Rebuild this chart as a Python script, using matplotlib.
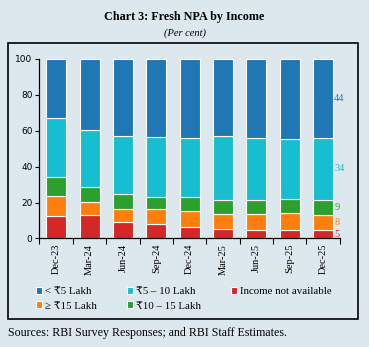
import numpy as np
import matplotlib.pyplot as plt
from matplotlib.patches import Rectangle

quarters = ["Dec-23", "Mar-24", "Jun-24", "Sep-24", "Dec-24",
            "Mar-25", "Jun-25", "Sep-25", "Dec-25"]

# shares in per cent, stacked bottom to top
not_available = [12.6, 13.2, 9.3, 8.1, 6.5, 5.4, 4.8, 4.8, 4.6]
above_15 = [11.2, 7.2, 7.2, 8.1, 8.5, 8.0, 8.6, 9.1, 8.2]
lakh_10_15 = [10.6, 8.0, 8.0, 7.0, 7.9, 8.1, 8.1, 8.2, 8.7]
lakh_5_10 = [32.9, 31.8, 32.7, 33.1, 33.2, 35.4, 34.6, 33.4, 34.4]
below_5 = [32.7, 39.8, 42.8, 43.7, 43.9, 43.1, 43.9, 44.5, 44.1]

bg = "#dde8ee"
serif = ["Liberation Serif", "DejaVu Serif"]

fig = plt.figure(figsize=(3.69, 3.47), dpi=100, facecolor=bg)
ax = fig.add_axes([0.107, 0.313, 0.814, 0.517])
ax.set_facecolor(bg)

series = [
    (not_available, "#d62728", "Income not available"),
    (above_15, "#ff7f0e", "\u2265 \u20b915 Lakh"),
    (lakh_10_15, "#2ca02c", "\u20b910 \u2013 15 Lakh"),
    (lakh_5_10, "#17becf", "\u20b95 \u2013 10 Lakh"),
    (below_5, "#1f77b4", "< \u20b95 Lakh"),
]

x = np.arange(len(quarters))
bottom = np.zeros(len(quarters))
handles = {}
for vals, col, lab in series:
    vals = np.array(vals)
    b = ax.bar(x, vals, 0.6, bottom=bottom, color=col, edgecolor="white",
               linewidth=0.8, label=lab)
    handles[lab] = b
    # end-of-series label next to last bar
    ax.text(x[-1] + 0.33, bottom[-1] + vals[-1] / 2, f"{round(vals[-1])}",
            color=col, fontsize=7.5, ha="left", va="center", family=serif)
    bottom += vals

ax.set_xlim(-0.5, len(quarters) - 0.5)
ax.set_ylim(0, 100)
ax.set_yticks([0, 20, 40, 60, 80, 100])
ax.tick_params(axis="y", labelsize=6.5, length=3, width=0.8, pad=2)
ax.set_xticks(x)
ax.set_xticklabels(quarters, rotation=90, fontsize=7.5, family=serif)
ax.tick_params(axis="x", length=0, pad=4)
ax.set_xticks(np.arange(-0.5, len(quarters)), minor=True)
ax.tick_params(axis="x", which="minor", length=4, width=0.8)
for s in ["top", "right"]:
    ax.spines[s].set_visible(False)
for s in ["left", "bottom"]:
    ax.spines[s].set_linewidth(0.9)

order = ["< \u20b95 Lakh", "\u2265 \u20b915 Lakh", "\u20b95 \u2013 10 Lakh",
         "\u20b910 \u2013 15 Lakh", "Income not available"]
leg = fig.legend([handles[k] for k in order], order, loc="upper left",
                 bbox_to_anchor=(0.085, 0.185), ncol=3, frameon=False,
                 prop={"family": serif, "size": 7.8}, handlelength=0.6,
                 handleheight=0.6, handletextpad=0.3, columnspacing=2.7,
                 labelspacing=0.45, borderaxespad=0)

# outer box
fig.patches.append(Rectangle((8 / 369, 1 - 319 / 347), 350 / 369, 276 / 347,
                             transform=fig.transFigure, fill=False,
                             edgecolor="black", linewidth=1.2))

fig.text(0.5, 1 - 17 / 347, "Chart 3: Fresh NPA by Income", ha="center",
         va="center", fontsize=8.7, fontweight="bold", family=serif)
fig.text(0.5, 1 - 33 / 347, "(Per cent)", ha="center", va="center",
         fontsize=7.5, style="italic", family=serif)
fig.text(8 / 369, 1 - 333 / 347,
         "Sources: RBI Survey Responses; and RBI Staff Estimates.",
         ha="left", va="center", fontsize=8.6, family=serif)

fig.savefig("out.png", dpi=100, facecolor=bg)
